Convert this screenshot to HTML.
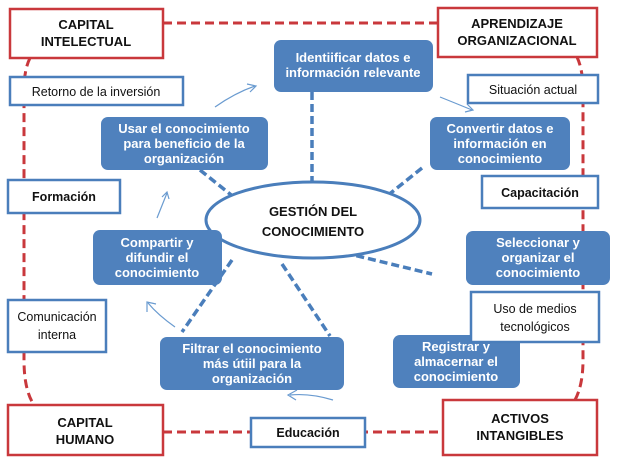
<!DOCTYPE html>
<html><head><meta charset="utf-8"><style>
html,body{margin:0;padding:0;background:#fff;}
svg{display:block;font-family:"Liberation Sans",Arial,sans-serif;}
.b{font-weight:bold;font-size:13px;fill:#fff;text-anchor:middle;}
.k{font-weight:bold;font-size:13px;fill:#111;text-anchor:middle;}
.n{font-size:12.5px;fill:#111;text-anchor:middle;}
</style></head><body>
<svg width="629" height="467" viewBox="0 0 629 467">
<g stroke="#c9383c" stroke-width="3" stroke-dasharray="9,5" fill="none">
<line x1="163" y1="23" x2="438" y2="23"/>
<line x1="163" y1="432" x2="443" y2="432"/>
<path d="M30 58 Q24 70 24 90 L24 360 Q24 390 34 405"/>
<path d="M577 57 Q583 70 583 90 L583 360 Q583 385 575 400"/>
</g>
<g stroke="#4a7ebb" stroke-width="3.5" stroke-dasharray="8,4" fill="none">
<line x1="312" y1="92" x2="312" y2="182"/>
<line x1="200" y1="170" x2="235" y2="198"/>
<line x1="422" y1="168" x2="382" y2="200"/>
<line x1="212" y1="236" x2="160" y2="262"/>
<line x1="333" y1="250" x2="432" y2="274"/>
<line x1="232" y1="260" x2="182" y2="332"/>
<line x1="282" y1="264" x2="330" y2="336"/>
</g>
<g stroke="#6a9bd0" stroke-width="1.2" fill="none">
<path d="M215 107 Q235 93 255 86"/><path d="M247 84 L256 86 L250 92"/>
<path d="M440 97 Q455 103 472 110"/><path d="M465 112 L473 110 L467 104"/>
<path d="M157 218 L167 193"/><path d="M162 197 L167 192 L169 199"/>
<path d="M175 327 Q158 315 148 303"/><path d="M147 312 L147 302 L156 304"/>
<path d="M333 400 Q310 393 290 395"/><path d="M297 390 L288 395 L296 400"/>
</g>
<ellipse cx="313" cy="220" rx="107" ry="38" fill="#fff" stroke="#4a7ebb" stroke-width="3"/>
<text class="k" x="313" y="216" font-size="13.5">GESTIÓN DEL</text>
<text class="k" x="313" y="236" font-size="13.5">CONOCIMIENTO</text>
<g fill="#4f81bd">
<rect x="274" y="40" width="159" height="52" rx="7"/>
<rect x="101" y="117" width="167" height="53" rx="7"/>
<rect x="430" y="117" width="140" height="53" rx="7"/>
<rect x="93" y="230" width="129" height="55" rx="7"/>
<rect x="466" y="231" width="144" height="54" rx="7"/>
<rect x="160" y="337" width="184" height="53" rx="7"/>
<rect x="393" y="335" width="127" height="53" rx="7"/>
</g>
<text class="b" x="353" y="62">Identiificar datos e</text>
<text class="b" x="353" y="77">información relevante</text>
<text class="b" x="184" y="133">Usar el conocimiento</text>
<text class="b" x="184" y="148">para beneficio de la</text>
<text class="b" x="184" y="163">organización</text>
<text class="b" x="500" y="133">Convertir datos e</text>
<text class="b" x="500" y="148">información en</text>
<text class="b" x="500" y="163">conocimiento</text>
<text class="b" x="157" y="247">Compartir y</text>
<text class="b" x="157" y="262">difundir el</text>
<text class="b" x="157" y="277">conocimiento</text>
<text class="b" x="538" y="247">Seleccionar y</text>
<text class="b" x="538" y="262">organizar el</text>
<text class="b" x="538" y="277">conocimiento</text>
<text class="b" x="252" y="353">Filtrar el conocimiento</text>
<text class="b" x="252" y="368">más útiil para la</text>
<text class="b" x="252" y="383">organización</text>
<text class="b" x="456" y="351">Registrar y</text>
<text class="b" x="456" y="366">almacernar el</text>
<text class="b" x="456" y="381">conocimiento</text>
<g fill="#fff" stroke="#4a7ebb" stroke-width="2.5">
<rect x="10" y="77" width="173" height="28"/>
<rect x="8" y="180" width="112" height="33"/>
<rect x="8" y="300" width="98" height="52"/>
<rect x="468" y="75" width="130" height="28"/>
<rect x="482" y="176" width="116" height="32"/>
<rect x="471" y="292" width="128" height="50"/>
<rect x="251" y="418" width="114" height="29"/>
</g>
<text class="n" x="96" y="96">Retorno de la inversión</text>
<text class="n" x="64" y="201" font-weight="bold">Formación</text>
<text class="n" x="57" y="321">Comunicación</text>
<text class="n" x="57" y="339">interna</text>
<text class="n" x="533" y="94">Situación actual</text>
<text class="n" x="540" y="197" font-weight="bold">Capacitación</text>
<text class="n" x="535" y="313">Uso de medios</text>
<text class="n" x="535" y="331">tecnológicos</text>
<text class="n" x="308" y="437" font-weight="bold">Educación</text>
<g fill="#fff" stroke="#c9383c" stroke-width="2.5">
<rect x="10" y="9" width="153" height="49"/>
<rect x="438" y="8" width="159" height="49"/>
<rect x="8" y="405" width="155" height="50"/>
<rect x="443" y="400" width="154" height="55"/>
</g>
<text class="k" x="86" y="29">CAPITAL</text>
<text class="k" x="86" y="46">INTELECTUAL</text>
<text class="k" x="517" y="28">APRENDIZAJE</text>
<text class="k" x="517" y="45">ORGANIZACIONAL</text>
<text class="k" x="85" y="427">CAPITAL</text>
<text class="k" x="85" y="444">HUMANO</text>
<text class="k" x="520" y="423">ACTIVOS</text>
<text class="k" x="520" y="440">INTANGIBLES</text>
</svg>
</body></html>
